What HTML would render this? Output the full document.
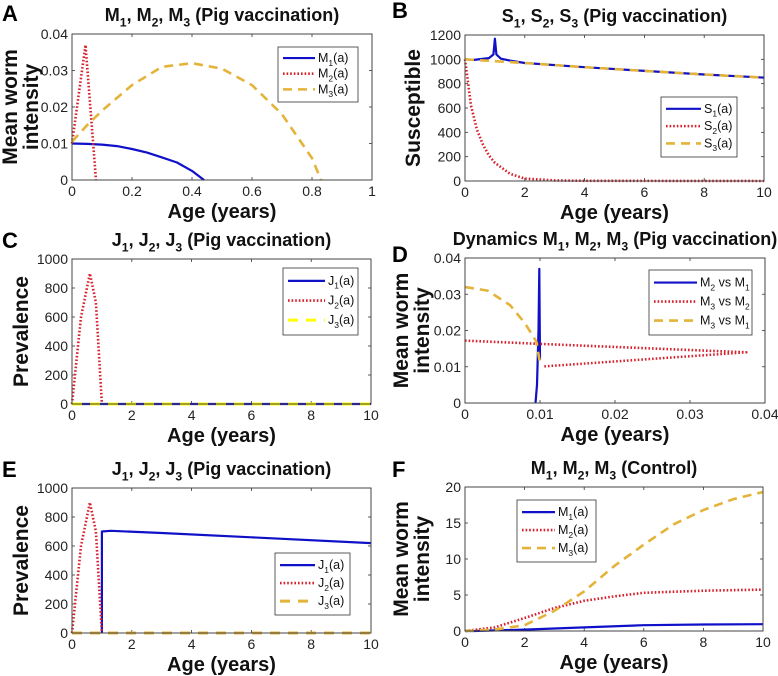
<!DOCTYPE html>
<html><head><meta charset="utf-8"><style>
body{margin:0;background:#fff}
svg{display:block;font-family:"Liberation Sans",Arial,sans-serif}
</style></head><body>
<svg id="fig" width="778" height="676" viewBox="0 0 778 676" xmlns="http://www.w3.org/2000/svg"></svg>
<script>
// Panel A data
const aM1x=[0,0.05,0.1,0.15,0.2,0.25,0.3,0.35,0.4,0.44];
const aM1y=[0.01,0.0099,0.0097,0.0093,0.0085,0.0075,0.0062,0.0048,0.0025,0];
const aM2x=[0,0.045,0.08];
const aM2y=[0.01,0.037,0];
const aM3x=[0,0.05,0.1,0.2,0.3,0.4,0.5,0.6,0.7,0.8,0.83];
const aM3y=[0.0105,0.015,0.019,0.026,0.031,0.032,0.0305,0.026,0.018,0.006,0];
// Panel B data
const bS1x=[0,0.3,0.8,0.95,1,1.05,1.2,1.5,2,4,6,8,10];
const bS1y=[1000,995,1010,1040,1170,1040,1005,990,970,935,905,875,850];
const bS2x=[0,0.2,0.4,0.6,0.8,1,1.5,2,3,4,10];
const bS2y=[1000,620,420,300,210,150,60,20,5,2,0];
const bS3x=[0,1,2,4,6,8,10];
const bS3y=[1000,985,970,935,905,875,850];
// Panel C data
const cJ1x=[0,10], cJ1y=[0,0];
const cJ2x=[0,0.3,0.6,0.8,1.0], cJ2y=[0,600,900,700,0];
const cJ3x=[0,10], cJ3y=[0,0];
// Panel D data
const dA_x=[0.0094,0.0096,0.0098,0.0099,0.01], dA_y=[0,0.005,0.02,0.037,0.012];
const dB_x=[0,0.01,0.0375,0.0105], dB_y=[0.0172,0.0163,0.014,0.0101];
const dC_x=[0,0.003,0.006,0.008,0.0095,0.01], dC_y=[0.032,0.031,0.027,0.022,0.017,0.011];
// Panel E data
const eJ1x=[1,1,1.3,3,6,10], eJ1y=[0,700,705,690,660,620];
const eJ2x=[0,0.3,0.6,0.8,1.0], eJ2y=[0,600,900,700,0];
const eJ3x=[0,10], eJ3y=[0,0];
// Panel F data
const fM1x=[0,0.3,2,4,6,8,10], fM1y=[0,0,0.2,0.5,0.8,0.9,0.95];
const fM2x=[0,1,2,3,4,5,6,8,10], fM2y=[0,0.5,1.8,3.2,4.2,4.8,5.3,5.6,5.75];
const fM3x=[0,1,2,3,4,5,6,7,8,9,10], fM3y=[0,0.2,0.8,2.8,5.5,9,12,14.8,16.8,18.3,19.3];
// Tick labels
const tA_x=["0","0.2","0.4","0.6","0.8","1"], tA_y=["0","0.01","0.02","0.03","0.04"];
const t10=["0","2","4","6","8","10"];
const tB_y=["0","200","400","600","800","1000","1200"];
const tC_y=["0","200","400","600","800","1000"];
const tD_x=["0","0.01","0.02","0.03","0.04"];
const tF_y=["0","5","10","15","20"];

const NS="http://www.w3.org/2000/svg";
const svg=document.getElementById('fig');
function mk(tag,attrs,parent){const e=document.createElementNS(NS,tag);for(const k in attrs)e.setAttribute(k,attrs[k]);(parent||svg).appendChild(e);return e;}
const BLUE="#1010c8",RED="#d8202c",GOLD="#e4b43a",YEL="#ffff00";
const STY={
 solid:{c:BLUE,w:2.2,d:""},
 dot:{c:RED,w:2.6,d:"1.6 2"},
 dash:{c:GOLD,w:2.6,d:"9 6"},
 ydash:{c:YEL,w:3,d:"10 8"},
 gdash:{c:GOLD,w:3,d:"10 8"}
};
function richText(parent,x,y,parts,size,anchor,bold){
 const t=mk('text',{x:x,y:y,'font-size':size,'text-anchor':anchor||'middle','font-weight':bold?'bold':'normal',fill:'#111'},parent);
 for(const p of parts){const s=mk('tspan',{},t);s.textContent=p[0];if(p[1]){s.setAttribute('font-size',size*0.68);s.setAttribute('dy',size*0.3);}else{s.setAttribute('dy',0);}
  if(p[2])s.setAttribute('dy',-size*0.3);}
 return t;
}
function panel(P){
 const g=mk('g',{});
 
 
 const sx=v=>P.x0+(v-P.xmin)/(P.xmax-P.xmin)*(P.x1-P.x0);
 const sy=v=>P.y0-(v-P.ymin)/(P.ymax-P.ymin)*(P.y0-P.y1);
 P.xt.forEach((lab,i)=>{const v=P.xmin+i*(P.xmax-P.xmin)/(P.xt.length-1);const X=sx(v);
  mk('line',{x1:X,x2:X,y1:P.y0,y2:P.y0-3,stroke:'#333','stroke-width':0.8},g);
  mk('line',{x1:X,x2:X,y1:P.y1,y2:P.y1+3,stroke:'#333','stroke-width':0.8},g);
  const t=mk('text',{x:X,y:P.y0+16,'font-size':14,'text-anchor':'middle',fill:'#222'},g);t.textContent=lab;
  
  });
 P.yt.forEach((lab,i)=>{const v=P.ymin+i*(P.ymax-P.ymin)/(P.yt.length-1);const Y=sy(v);
  mk('line',{x1:P.x0,x2:P.x0+3,y1:Y,y2:Y,stroke:'#333','stroke-width':0.8},g);
  mk('line',{x1:P.x1,x2:P.x1-3,y1:Y,y2:Y,stroke:'#333','stroke-width':0.8},g);
  const t=mk('text',{x:P.x0-4,y:Y+5,'font-size':14,'text-anchor':'end',fill:'#222'},g);t.textContent=lab;
  
  });
 P.series.forEach(s=>{const st=STY[s.st];
  const pts=s.x.map((v,i)=>sx(v).toFixed(1)+','+sy(s.y[i]).toFixed(1)).join(' ');
  const pl=mk('polyline',{points:pts,fill:'none',stroke:st.c,'stroke-width':st.w,'stroke-dasharray':st.d,'stroke-linejoin':'round'},g);
  
  });
 const box=mk('rect',{x:P.x0,y:P.y1,width:P.x1-P.x0,height:P.y0-P.y1,fill:'none',stroke:'#444','stroke-width':1},g);
 
 
 const tt=richText(g,(P.x0+P.x1)/2,P.y1-13,P.title,18,'middle',true);
 
 
 const lt=mk('text',{x:P.lx,y:P.ly,'font-size':22,'font-weight':'bold',fill:'#000'},g);lt.textContent=P.letter;
 
 
 const xl=mk('text',{x:(P.x0+P.x1)/2,y:P.y0+38,'font-size':20,'font-weight':'bold','text-anchor':'middle',fill:'#111'},g);xl.textContent='Age (years)';
 
 
 const cy=(P.y0+P.y1)/2;
 P.ylab.forEach((l,i)=>{const X=P.ylx+i*21;const t=mk('text',{x:X,y:cy,'font-size':21,'font-weight':'bold','text-anchor':'middle',fill:'#111',transform:`rotate(-90 ${X} ${cy})`},g);t.textContent=l;
  
  });
 const L=P.leg;const lg=mk('g',{},g);
 
 
 mk('rect',{x:L.x,y:L.y,width:L.w,height:L.h,fill:'#fff',stroke:'#333','stroke-width':0.8},lg);
 const n=P.series.length,step=(L.h-8)/n;
 P.series.forEach((s,i)=>{const st=STY[s.st];const Y=L.y+4+step*(i+0.45);
  mk('line',{x1:L.x+5,x2:L.x+L.sw,y1:Y,y2:Y,stroke:st.c,'stroke-width':st.w,'stroke-dasharray':st.d},lg);
  const t=richText(lg,L.x+L.sw+3,Y+4,s.lab,12.5,'start',false);
  
  });
}
const S=(b,n,r)=>[[b,0],[n,1],[r,0,1]];
const vsLab=(a,b,c,d)=>[[a,0],[b,1],[' vs '+c,0,1],[d,1]];
panel({name:'panel-a',letter:'A',lx:2,ly:21,x0:72,x1:372,y0:180,y1:34,xmin:0,xmax:1,ymin:0,ymax:0.04,xt:tA_x,yt:tA_y,
 title:[['M',0],['1',1],[', M',0,1],['2',1],[', M',0,1],['3',1],[' (Pig vaccination)',0,1]],ylx:17,ylab:['Mean worm','intensity'],
 leg:{x:278,y:47,w:80,h:55,sw:37},
 series:[{name:'line-m1',st:'solid',x:aM1x,y:aM1y,lab:S('M','1','(a)')},{name:'line-m2',st:'dot',x:aM2x,y:aM2y,lab:S('M','2','(a)')},{name:'line-m3',st:'dash',x:aM3x,y:aM3y,lab:S('M','3','(a)')}]});
panel({name:'panel-b',letter:'B',lx:392,ly:18,x0:465,x1:764,y0:181,y1:35,xmin:0,xmax:10,ymin:0,ymax:1200,xt:t10,yt:tB_y,
 title:[['S',0],['1',1],[', S',0,1],['2',1],[', S',0,1],['3',1],[' (Pig vaccination)',0,1]],ylx:420,ylab:['Susceptible'],
 leg:{x:661,y:97,w:76,h:60,sw:40},
 series:[{name:'line-s1',st:'solid',x:bS1x,y:bS1y,lab:S('S','1','(a)')},{name:'line-s2',st:'dot',x:bS2x,y:bS2y,lab:S('S','2','(a)')},{name:'line-s3',st:'dash',x:bS3x,y:bS3y,lab:S('S','3','(a)')}]});
panel({name:'panel-c',letter:'C',lx:2,ly:248,x0:72,x1:371,y0:404,y1:259,xmin:0,xmax:10,ymin:0,ymax:1000,xt:t10,yt:tC_y,
 title:[['J',0],['1',1],[', J',0,1],['2',1],[', J',0,1],['3',1],[' (Pig vaccination)',0,1]],ylx:28,ylab:['Prevalence'],
 leg:{x:283,y:268,w:75,h:67,sw:42},
 series:[{name:'line-j1',st:'solid',x:cJ1x,y:cJ1y,lab:S('J','1','(a)')},{name:'line-j2',st:'dot',x:cJ2x,y:cJ2y,lab:S('J','2','(a)')},{name:'line-j3',st:'ydash',x:cJ3x,y:cJ3y,lab:S('J','3','(a)')}]});
panel({name:'panel-d',letter:'D',lx:392,ly:262,x0:465,x1:765,y0:403,y1:258,xmin:0,xmax:0.04,ymin:0,ymax:0.04,xt:tD_x,yt:tA_y,
 title:[['Dynamics M',0],['1',1],[', M',0,1],['2',1],[', M',0,1],['3',1],[' (Pig vaccination)',0,1]],ylx:408,ylab:['Mean worm','intensity'],
 leg:{x:649,y:270,w:103,h:65,sw:48},
 series:[{name:'line-m2-vs-m1',st:'solid',x:dA_x,y:dA_y,lab:vsLab('M','2','M','1')},{name:'line-m3-vs-m2',st:'dot',x:dB_x,y:dB_y,lab:vsLab('M','3','M','2')},{name:'line-m3-vs-m1',st:'dash',x:dC_x,y:dC_y,lab:vsLab('M','3','M','1')}]});
panel({name:'panel-e',letter:'E',lx:2,ly:477,x0:72,x1:371,y0:633,y1:488,xmin:0,xmax:10,ymin:0,ymax:1000,xt:t10,yt:tC_y,
 title:[['J',0],['1',1],[', J',0,1],['2',1],[', J',0,1],['3',1],[' (Pig vaccination)',0,1]],ylx:28,ylab:['Prevalence'],
 leg:{x:275,y:553,w:75,h:62,sw:40},
 series:[{name:'line-j1',st:'solid',x:eJ1x,y:eJ1y,lab:S('J','1','(a)')},{name:'line-j2',st:'dot',x:eJ2x,y:eJ2y,lab:S('J','2','(a)')},{name:'line-j3',st:'gdash',x:eJ3x,y:eJ3y,lab:S('J','3','(a)')}]});
panel({name:'panel-f',letter:'F',lx:392,ly:477,x0:465,x1:763,y0:631,y1:487,xmin:0,xmax:10,ymin:0,ymax:20,xt:t10,yt:tF_y,
 title:[['M',0],['1',1],[', M',0,1],['2',1],[', M',0,1],['3',1],[' (Control)',0,1]],ylx:408,ylab:['Mean worm','intensity'],
 leg:{x:517,y:500,w:79,h:62,sw:38},
 series:[{name:'line-m1',st:'solid',x:fM1x,y:fM1y,lab:S('M','1','(a)')},{name:'line-m2',st:'dot',x:fM2x,y:fM2y,lab:S('M','2','(a)')},{name:'line-m3',st:'dash',x:fM3x,y:fM3y,lab:S('M','3','(a)')}]});
</script>
</body></html>
